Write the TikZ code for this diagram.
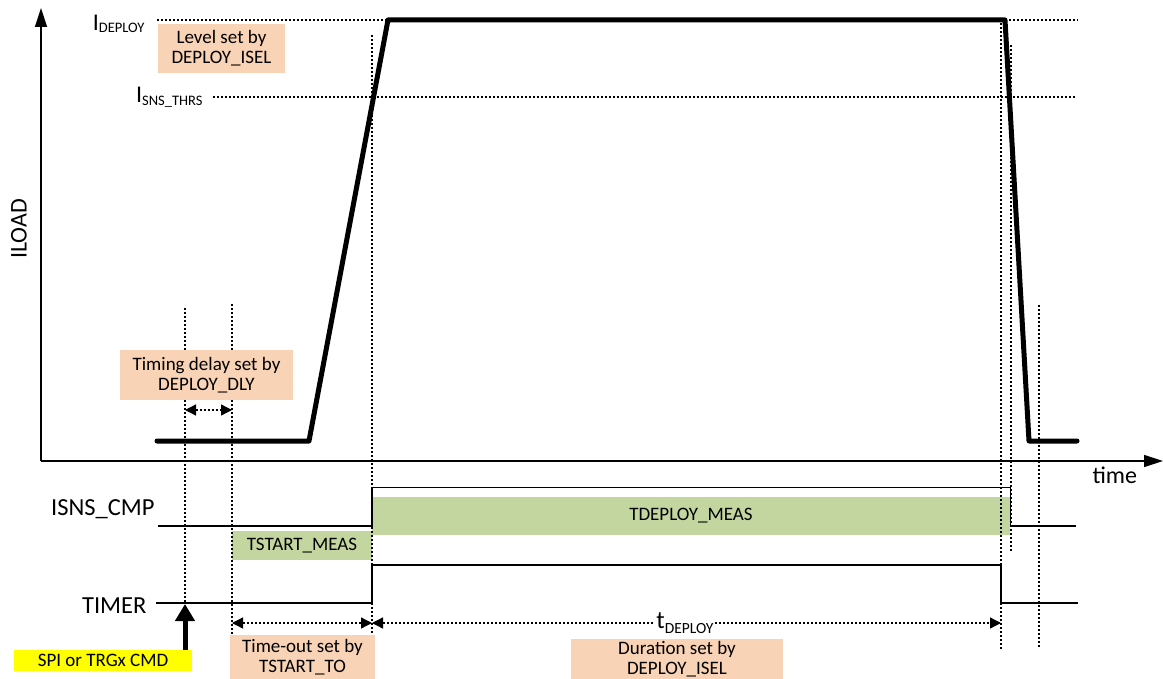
\documentclass[tikz,border=0pt]{standalone}
\usepackage{fontspec}
\setmainfont{Carlito}
\usetikzlibrary{arrows.meta}
\definecolor{peach}{HTML}{F8D3B5}
\definecolor{olivelt}{HTML}{C4D6A0}
\definecolor{signyellow}{HTML}{FFFF00}
\newcommand\fsize[2]{\fontsize{#1}{#2}\selectfont}

\begin{document}
\begin{tikzpicture}[x=1pt,y=-1pt,
  dotline/.style={line width=1.3pt, dash pattern=on 2pt off 2pt},
  sigline/.style={line width=1.6pt},
  axisline/.style={line width=1.4pt, -{Triangle[length=19pt,width=12pt]}},
  loadline/.style={line width=5pt, line join=round, line cap=round},
  dimtip/.style={Triangle[length=11pt,width=11pt]},
  dimarrow/.style={dotline, {Triangle[length=11pt,width=11pt]}-{Triangle[length=11pt,width=11pt]}},
  peachbox/.style={fill=peach, inner sep=0pt, align=center, font=\fsize{19}{20}},
  greenbox/.style={fill=olivelt, inner sep=0pt, font=\fsize{19}{20}},
  siglabel/.style={font=\fsize{24.5}{26}, anchor=base east},
]
\clip (0,0) rectangle (1163,679);

% ---- axes ----
\coordinate (origin) at (41,461);
\coordinate (ytip) at (41,8);
\coordinate (xtip) at (1163,461);
\draw[axisline] (origin) -- (ytip);
\draw[axisline] (origin) -- (xtip);
\node[rotate=90, font=\fsize{24}{24}] (iload) at (19,229) {ILOAD};
\node[font=\fsize{24}{24}, anchor=base west] (time) at (1089,483) {time};

% ---- current levels ----
\node[font=\fsize{24}{24}, anchor=base east] (ideploy) at (148,31)
  {I\raisebox{-2pt}{\fsize{14.5}{15}DEPLOY}};
\node[font=\fsize{24}{24}, anchor=base east] (ithrs) at (206,103)
  {I\raisebox{-3pt}{\fsize{14.5}{15}SNS\_THRS}};
\coordinate (dl0) at (157,20);
\coordinate (dl1) at (1078,20);
\coordinate (th0) at (213,97);
\coordinate (th1) at (1075,97);
\draw[dotline] (dl0) -- (dl1);
\draw[dotline] (th0) -- (th1);

% ---- timing markers ----
\coordinate (m1a) at (185,308);  \coordinate (m1b) at (185,603);
\coordinate (m2a) at (232,304);  \coordinate (m2b) at (232,635);
\coordinate (m3a) at (372,35);   \coordinate (m3b) at (372,635);
\coordinate (m4a) at (1001,23);  \coordinate (m4b) at (1001,650);
\coordinate (m5a) at (1011,45);  \coordinate (m5b) at (1011,552);
\coordinate (m6a) at (1039,305); \coordinate (m6b) at (1039,648);

% ---- measurement windows (under the markers) ----
\node[greenbox, minimum width=638pt, minimum height=38pt] (tdmeas) at (691,516) {TDEPLOY\_MEAS};
\node[greenbox, minimum width=140pt, minimum height=29pt] (tsmeas) at (302,545.5) {TSTART\_MEAS};

\foreach \m in {1,...,6} \draw[dotline] (m\m a) -- (m\m b);

% ---- load current ----
\coordinate (l0) at (157,441);
\coordinate (l1) at (309,441);
\coordinate (l2) at (388,20);
\coordinate (l3) at (1005,20);
\coordinate (l4) at (1029,441);
\coordinate (l5) at (1077,441);
\draw[loadline] (l0) -- (l1) -- (l2) -- (l3) -- (l4) -- (l5);

% ---- digital signals ----
\node[siglabel] (isnslbl) at (158,515) {ISNS\_CMP};
\node[siglabel] (timerlbl) at (150,613) {TIMER};
\coordinate (c0) at (158,526);
\coordinate (c1) at (372,526);
\coordinate (c2) at (372,487.5);
\coordinate (c3) at (1010.5,487.5);
\coordinate (c4) at (1010.5,526);
\coordinate (c5) at (1076,526);
\draw[sigline] (c0) -- (c1) -- (c2) -- (c3) -- (c4) -- (c5);
\coordinate (t0) at (156,603);
\coordinate (t1) at (372,603);
\coordinate (t2) at (372,565);
\coordinate (t3) at (1001,565);
\coordinate (t4) at (1001,603);
\coordinate (t5) at (1078,603);
\draw[sigline] (t0) -- (t1) -- (t2) -- (t3) -- (t4) -- (t5);

% ---- dimension arrows ----
\coordinate (dly0) at (185,410);
\coordinate (dly1) at (232,410);
\draw[dimarrow] (dly0) -- (dly1);
\coordinate (to0) at (232,623);
\coordinate (to1) at (372,623);
\coordinate (dp1) at (1001,623);
\draw[dimarrow] (to0) -- (to1);
\draw[dimarrow] (to1) -- (dp1);
\node[font=\fsize{25}{25}, anchor=base, fill=white, inner xsep=1pt, inner ysep=0pt] (tdeploy) at (685,628)
  {t\raisebox{-5pt}{\fsize{15.5}{16}DEPLOY}};

% ---- annotations ----
\node[peachbox, minimum width=127pt, minimum height=49pt] (levelbox) at (221.5,48.5)
  {Level set by\\DEPLOY\_ISEL};
\node[peachbox, minimum width=173pt, minimum height=50pt] (dlybox) at (206.5,375)
  {Timing delay set by\\DEPLOY\_DLY};
\node[peachbox, minimum width=145pt, minimum height=44pt] (tobox) at (302.5,657)
  {Time-out set by\\TSTART\_TO};
\node[peachbox, minimum width=212pt, minimum height=40pt] (durbox) at (677,659)
  {Duration set by\\DEPLOY\_ISEL};

% ---- trigger command ----
\node[fill=signyellow, inner sep=0pt, minimum width=178pt, minimum height=21pt, font=\fsize{19}{20}] (spi) at (103,660.5)
  {SPI or TRGx CMD};
\coordinate (trig) at (185,604);
\draw[line width=5pt, -{Triangle[length=17pt,width=19pt]}] (spi.north -| trig) -- (trig);
\end{tikzpicture}
\end{document}
